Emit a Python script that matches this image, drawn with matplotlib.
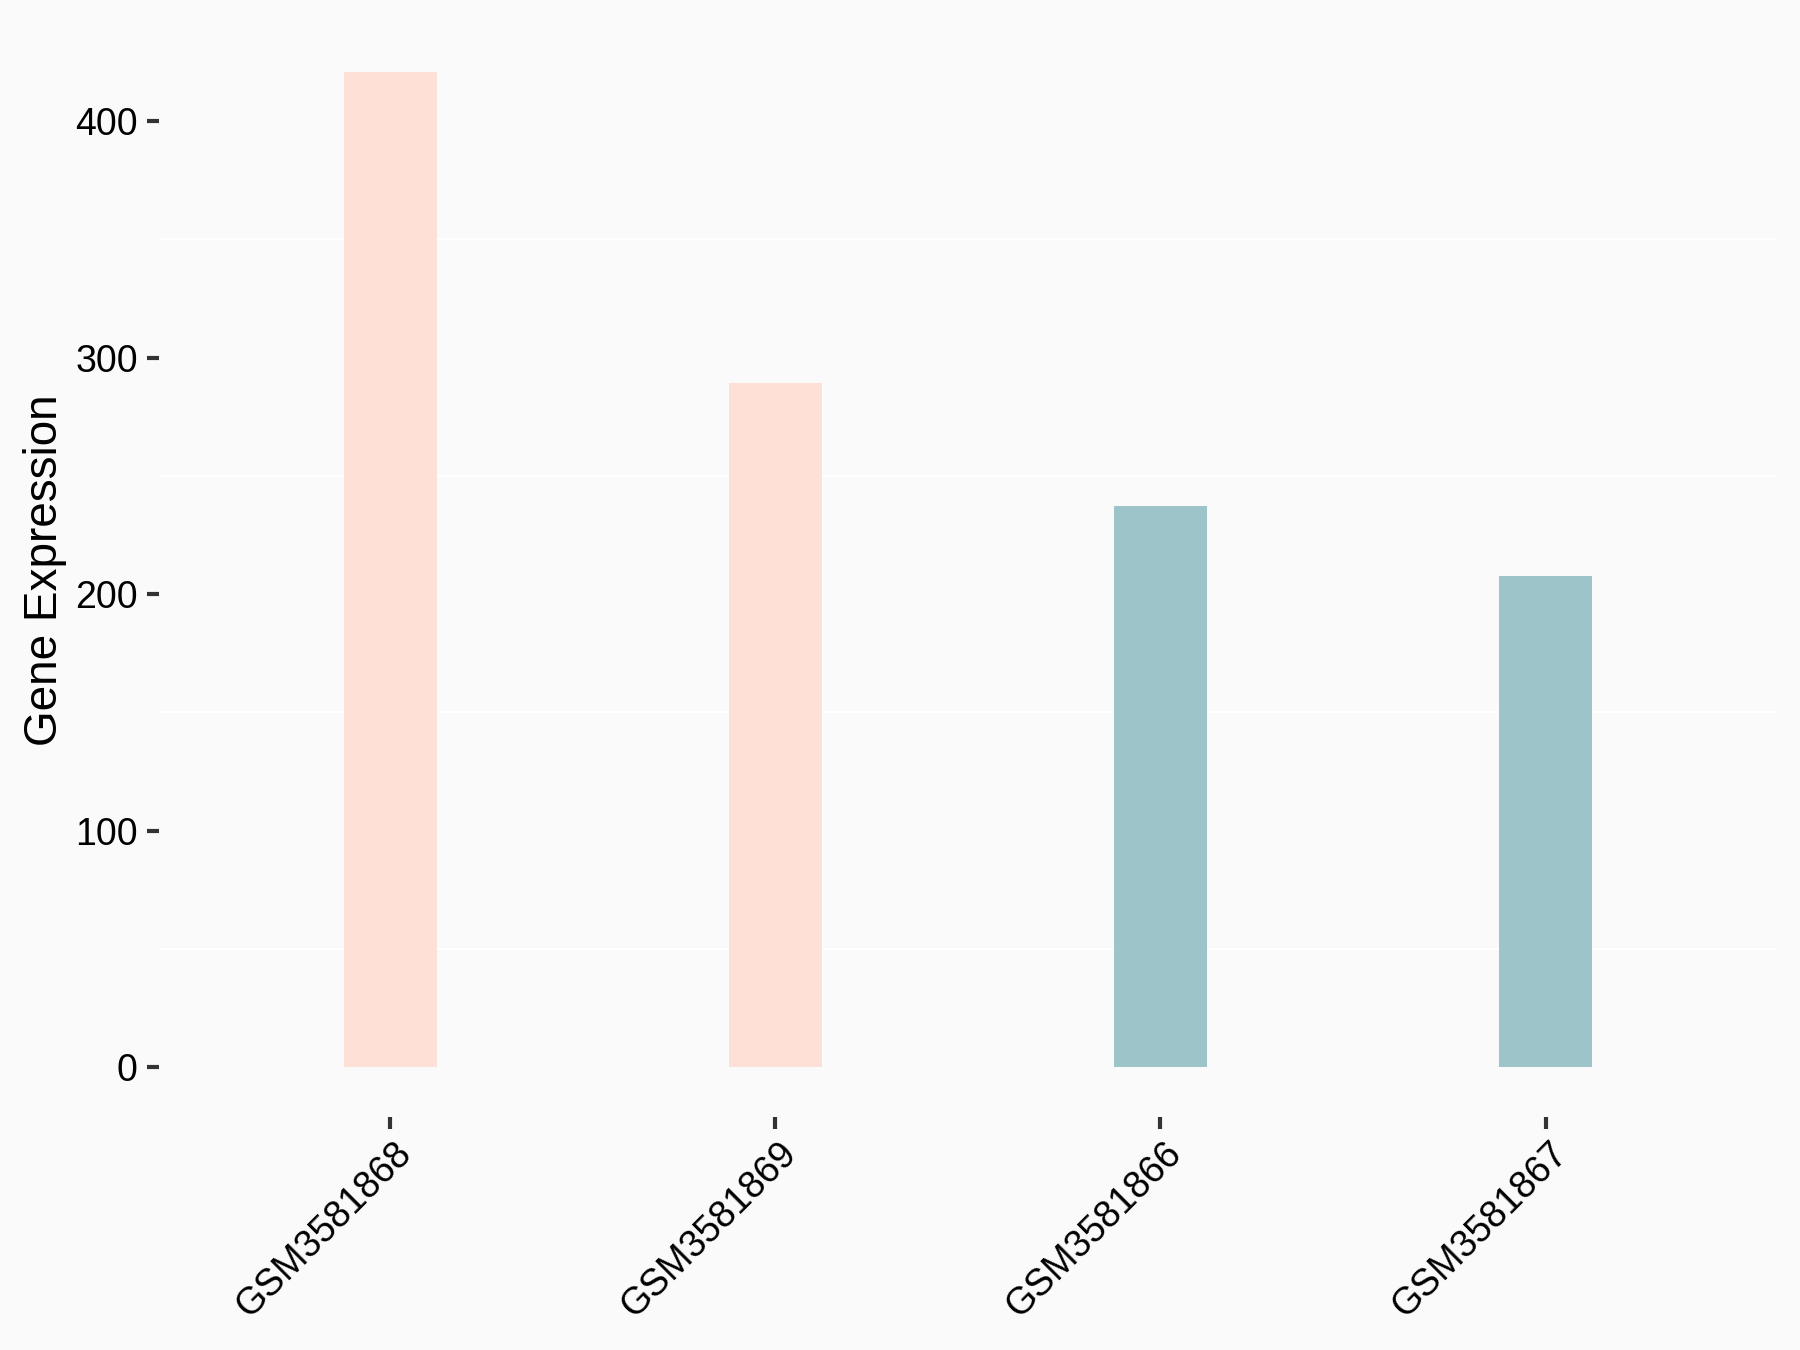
import matplotlib as mpl
mpl.use('Agg')
import matplotlib.pyplot as plt
from matplotlib.transforms import ScaledTranslation

plt.rcParams['font.family'] = ['Liberation Sans', 'DejaVu Sans']

# data
samples = ['GSM3581868', 'GSM3581869', 'GSM3581866', 'GSM3581867']
expression = [420.6, 289.2, 237.2, 207.7]
groups = ['A', 'A', 'B', 'B']
group_colors = {'A': '#FEE0D6', 'B': '#9DC4C8'}
y_ticks = [0, 100, 200, 300, 400]
y_minor = [50, 150, 250, 350]

BG = '#FAFAFA'

fig = plt.figure(figsize=(18, 13.5), dpi=100, facecolor=BG)
ax = fig.add_axes([0.0885, 0.1726, 0.8985, 0.8107], facecolor=BG)

x = list(range(1, len(samples) + 1))
ax.bar(x, expression, width=0.24, color=[group_colors[g] for g in groups], zorder=2)

ax.set_xlim(0.4, len(samples) + 0.6)
top = max(expression) * 1.05
ax.set_ylim(-max(expression) * 0.05, top)

# white minor grid lines, no major grid
for v in y_minor:
  ax.axhline(v, color='white', linewidth=1.6, zorder=1)

for side in ['top', 'right', 'bottom', 'left']:
  ax.spines[side].set_visible(False)

ax.set_yticks(y_ticks)
ax.set_yticklabels([str(v) for v in y_ticks])
ax.set_xticks(x)
ax.set_xticklabels(samples, rotation=45, ha='right', va='top', rotation_mode='anchor')

ax.tick_params(axis='both', colors='#333333', width=3, length=8.5, labelsize=27,
               labelcolor='black', pad=7)
ax.tick_params(axis='x', pad=5)

offset = ScaledTranslation(3 / 100.0, 0, fig.dpi_scale_trans)
for lab in ax.get_xticklabels():
  lab.set_transform(lab.get_transform() + offset)

ax.set_ylabel('Gene Expression', fontsize=33, color='black', labelpad=6)

fig.savefig('out.png', dpi=100, facecolor=BG)
plt.close()
